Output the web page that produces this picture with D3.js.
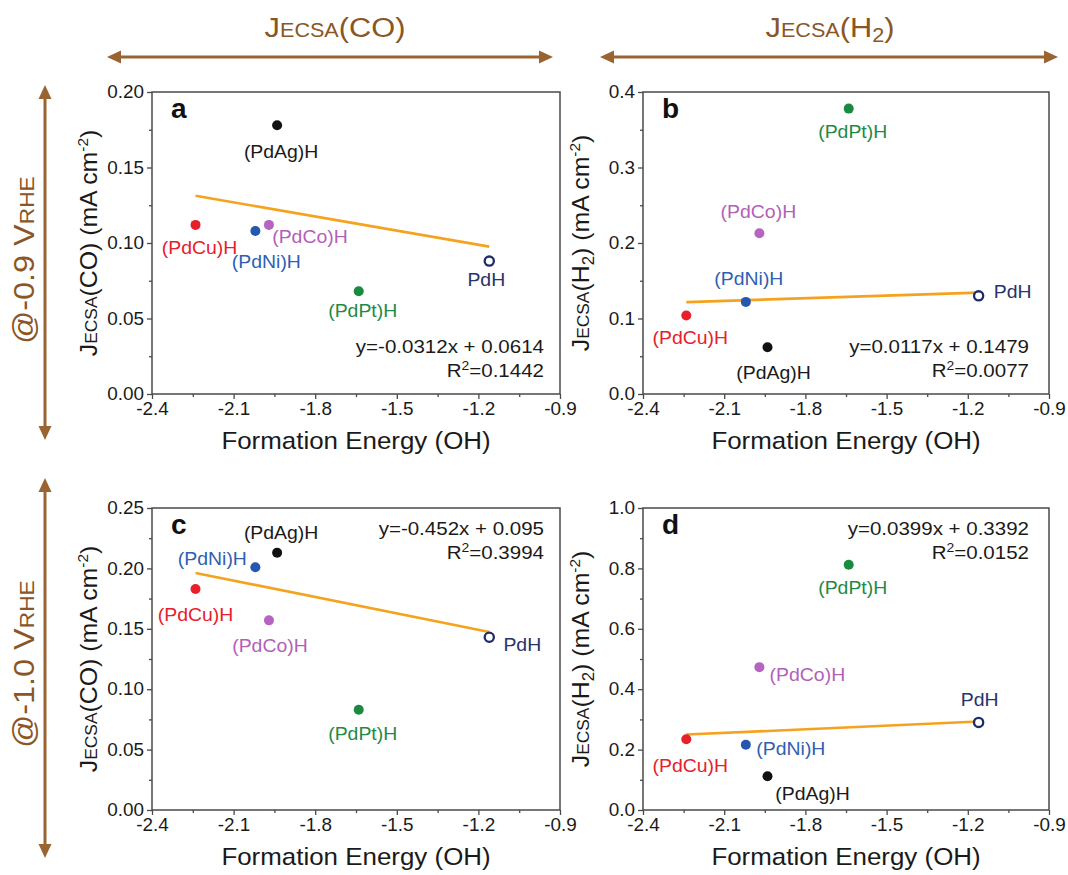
<!DOCTYPE html>
<html>
<head>
<meta charset="utf-8">
<script src="https://cdn.jsdelivr.net/npm/d3@7"></script>
<style>
  body { margin: 0; background: #fff; }
  svg { display: block; }
  text { font-family: "Liberation Sans", Arial, Helvetica, sans-serif; }
</style>
</head>
<body>
<svg id="fig" width="1068" height="875"></svg>
<script>
// ---- data ----
const catalysts = ["(PdCu)H", "(PdNi)H", "(PdCo)H", "(PdAg)H", "(PdPt)H", "PdH"];
const formationEnergyOH = [-2.24, -2.02, -1.97, -1.94, -1.64, -1.16];

// current densities normalised by ECSA (mA cm-2)
const jCO_09 = [0.112, 0.108, 0.112, 0.178, 0.068, 0.088];   // @-0.9 V
const jH2_09 = [0.104, 0.122, 0.213, 0.062, 0.378, 0.130];   // @-0.9 V
const jCO_10 = [0.183, 0.201, 0.157, 0.213, 0.083, 0.143];   // @-1.0 V
const jH2_10 = [0.234, 0.216, 0.473, 0.112, 0.812, 0.290];   // @-1.0 V

// linear fits for panels a–d
const fitSlope     = [-0.0312, 0.0117, -0.0452, 0.0399];
const fitIntercept = [0.0614, 0.1479, 0.095, 0.3392];
const fitEquation  = ["y=-0.0312x + 0.0614", "y=0.0117x + 0.1479", "y=-0.452x + 0.095", "y=0.0399x + 0.3392"];
const fitR2        = ["0.1442", "0.0077", "0.3994", "0.0152"];

// axis ticks
const xTicks = [-2.4, -2.1, -1.8, -1.5, -1.2, -0.9];
const yTicksCO09 = [0, 0.05, 0.10, 0.15, 0.20];
const yTicksH209 = [0, 0.1, 0.2, 0.3, 0.4];
const yTicksCO10 = [0, 0.05, 0.10, 0.15, 0.20, 0.25];
const yTicksH210 = [0, 0.2, 0.4, 0.6, 0.8, 1.0];

// ---- styling ----
const pointColor = ["#e8202a", "#2556b0", "#b565c0", "#111111", "#1a8a40", "#1e2c6a"];
const labelColor = ["#e8202a", "#2f5fb2", "#b35fba", "#1a1a1a", "#1f8a44", "#27336b"];
const brown = "#9a6432";
const brownText = "#8a5626";
const SX = 1.08;   // horizontal widening applied to all text

const svg = d3.select("#fig");

function richText(parent, x, y, parts, o) {
  const t = parent.append("text")
    .attr("transform", `translate(${x},${y})` + (o.rotate ? ` rotate(${o.rotate})` : "") + ` scale(${o.sx ?? SX},1)`)
    .attr("text-anchor", o.anchor || "start")
    .attr("fill", o.color || "#1a1a1a")
    .style("font-size", o.size + "px")
    .style("font-weight", o.weight || "normal");
  let shift = 0;
  parts.forEach(p => {
    const sz = p.s ? o.size * p.s : o.size;
    const target = p.up ? -o.size * p.up : 0;
    const ts = t.append("tspan").text(p.t).style("font-size", sz + "px");
    if (target !== shift) { ts.attr("dy", target - shift); shift = target; }
  });
  return t;
}

// ---- panel layout ----
const panels = [
  { letter: "a", values: jCO_09, yTicks: yTicksCO09, yMinor: 0.025, fmt: ".2f", species: "CO",
    box: { l: 152, r: 560, t: 92, b: 394 }, titleX: 97, eqTop: false, eqRight: 16,
    offs: [[4, 23], [11, 31], [41, 12], [4, 26], [4, 19], [-3, 18]] },
  { letter: "b", values: jH2_09, yTicks: yTicksH209, yMinor: 0.05, fmt: ".1f", species: "H2",
    box: { l: 643, r: 1049, t: 92, b: 394 }, titleX: 589, eqTop: false, eqRight: 20,
    offs: [[4, 22], [3, -23], [-1, -22], [6, 25], [4, 23], [34, -4]] },
  { letter: "c", values: jCO_10, yTicks: yTicksCO10, yMinor: 0.025, fmt: ".2f", species: "CO",
    box: { l: 152, r: 560, t: 508, b: 810 }, titleX: 97, eqTop: true, eqRight: 16,
    offs: [[0, 26], [-43, -9], [1, 25], [4, -20], [4, 24], [33, 7]] },
  { letter: "d", values: jH2_10, yTicks: yTicksH210, yMinor: 0.1, fmt: ".1f", species: "H2",
    box: { l: 643, r: 1049, t: 508, b: 810 }, titleX: 589, eqTop: true, eqRight: 20,
    offs: [[4, 26], [45, 4], [48, 7], [45, 17], [4, 23], [1, -23]] }
];

const axisColor = "#4a4a4a";
const hyphen = f => v => d3.format(f)(v).replace("\u2212", "-");

panels.forEach((p, i) => {
  const { l, r, t, b } = p.box;
  const g = svg.append("g");
  const x = d3.scaleLinear().domain([xTicks[0], xTicks[xTicks.length - 1]]).range([l, r]);
  const yMax = p.yTicks[p.yTicks.length - 1];
  const y = d3.scaleLinear().domain([0, yMax]).range([b, t]);

  // minor ticks
  const xMinor = d3.range(0, xTicks.length - 1).map(k => (xTicks[k] + xTicks[k + 1]) / 2);
  const yMinorVals = d3.range(p.yMinor, yMax, p.yMinor).filter(v => !p.yTicks.some(tv => Math.abs(tv - v) < 1e-9));

  const xAxis = g.append("g").attr("transform", `translate(0,${b})`)
    .call(d3.axisBottom(x).tickValues(xTicks).tickFormat(hyphen(".1f")).tickSize(5).tickPadding(4));
  g.append("g").attr("transform", `translate(0,${b})`)
    .call(d3.axisBottom(x).tickValues(xMinor).tickFormat("").tickSize(3))
    .call(s => s.select(".domain").remove());
  const yAxis = g.append("g").attr("transform", `translate(${l},0)`)
    .call(d3.axisLeft(y).tickValues(p.yTicks).tickFormat(hyphen(p.fmt)).tickSize(5).tickPadding(3));
  g.append("g").attr("transform", `translate(${l},0)`)
    .call(d3.axisLeft(y).tickValues(yMinorVals).tickFormat("").tickSize(3))
    .call(s => s.select(".domain").remove());

  g.selectAll(".domain").remove();
  g.selectAll(".tick line").attr("stroke", axisColor).attr("stroke-width", 1.3);
  g.selectAll(".tick text")
    .attr("fill", "#1a1a1a")
    .style("font-family", '"Liberation Sans", Arial, sans-serif')
    .style("font-size", "17.5px");
  xAxis.selectAll(".tick text").each(function () {
    d3.select(this).attr("transform", `scale(${SX},1)`).attr("x", 0);
  });
  yAxis.selectAll(".tick text").each(function () {
    d3.select(this).attr("transform", `translate(-8,0) scale(${SX},1)`).attr("x", 0);
  });

  // frame
  g.append("rect").attr("x", l).attr("y", t).attr("width", r - l).attr("height", b - t)
    .attr("fill", "none").attr("stroke", axisColor).attr("stroke-width", 1.5);

  // fit line
  const xr = d3.extent(formationEnergyOH);
  const line = d3.line().x(d => x(d[0])).y(d => y(d[1]));
  g.append("path")
    .datum(xr.map(v => [v, fitSlope[i] * v + fitIntercept[i]]))
    .attr("d", line).attr("fill", "none").attr("stroke", "#f5a21e").attr("stroke-width", 2.6);

  // points
  const pts = catalysts.map((c, k) => ({ name: c, fe: formationEnergyOH[k], j: p.values[k], k }));
  g.selectAll("circle.pt").data(pts).join("circle")
    .attr("class", "pt")
    .attr("cx", d => x(d.fe)).attr("cy", d => y(d.j))
    .attr("r", d => d.name === "PdH" ? 4.6 : 5)
    .attr("fill", d => d.name === "PdH" ? "#fff" : pointColor[d.k])
    .attr("stroke", d => d.name === "PdH" ? pointColor[d.k] : "none")
    .attr("stroke-width", 2.3);

  // point labels
  pts.forEach(d => {
    const [dx, dy] = p.offs[d.k];
    richText(g, x(d.fe) + dx, y(d.j) + dy + 6.5, [{ t: d.name }],
      { size: 18, anchor: "middle", color: labelColor[d.k] });
  });

  // panel letter
  richText(g, l + 19, t + 26, [{ t: p.letter }], { size: 28, weight: "bold", color: "#111", sx: 1 });

  // fit equation
  const eqX = r - p.eqRight;
  const y1 = p.eqTop ? t + 27 : b - 41;
  richText(g, eqX, y1, [{ t: fitEquation[i] }], { size: 19, anchor: "end" });
  richText(g, eqX, y1 + 24, [{ t: "R" }, { t: "2", s: 0.68, up: 0.38 }, { t: "=" + fitR2[i] }], { size: 19, anchor: "end" });

  // axis titles
  richText(g, (l + r) / 2, b + 55, [{ t: "Formation Energy (OH)" }], { size: 24, anchor: "middle" });
  const yParts = p.species === "CO"
    ? [{ t: "J" }, { t: "ECSA", s: 0.7 }, { t: "(CO) (mA cm" }, { t: "-2", s: 0.62, up: 0.4 }, { t: ")" }]
    : [{ t: "J" }, { t: "ECSA", s: 0.7 }, { t: "(H" }, { t: "2", s: 0.68, up: -0.2 }, { t: ") (mA cm" }, { t: "-2", s: 0.62, up: 0.4 }, { t: ")" }];
  richText(g, p.titleX, (t + b) / 2, yParts, { size: 23, anchor: "middle", rotate: -90 });
});

// ---- row / column headers with double-headed arrows ----
function hArrow(x1, x2, yy) {
  svg.append("line").attr("x1", x1 + 8).attr("x2", x2 - 8).attr("y1", yy).attr("y2", yy)
    .attr("stroke", brown).attr("stroke-width", 3);
  svg.append("path").attr("d", `M${x1},${yy} L${x1 + 14},${yy - 6.5} L${x1 + 14},${yy + 6.5} Z`).attr("fill", brown);
  svg.append("path").attr("d", `M${x2},${yy} L${x2 - 14},${yy - 6.5} L${x2 - 14},${yy + 6.5} Z`).attr("fill", brown);
}
function vArrow(xx, y1, y2) {
  svg.append("line").attr("x1", xx).attr("x2", xx).attr("y1", y1 + 8).attr("y2", y2 - 8)
    .attr("stroke", brown).attr("stroke-width", 3);
  svg.append("path").attr("d", `M${xx},${y1} L${xx - 6.5},${y1 + 14} L${xx + 6.5},${y1 + 14} Z`).attr("fill", brown);
  svg.append("path").attr("d", `M${xx},${y2} L${xx - 6.5},${y2 - 14} L${xx + 6.5},${y2 - 14} Z`).attr("fill", brown);
}

hArrow(107, 553, 57);
hArrow(600, 1058, 57);
vArrow(45, 85, 440);
vArrow(45, 478, 858);

richText(svg, 335, 37, [{ t: "J" }, { t: "ECSA", s: 0.7 }, { t: "(CO)" }], { size: 28, anchor: "middle", color: brownText, sx: 1.1 });
richText(svg, 830, 37, [{ t: "J" }, { t: "ECSA", s: 0.7 }, { t: "(H" }, { t: "2", s: 0.7, up: -0.18 }, { t: ")" }], { size: 28, anchor: "middle", color: brownText, sx: 1.1 });
richText(svg, 34, 260, [{ t: "@-0.9 V" }, { t: "RHE", s: 0.7 }], { size: 29, anchor: "middle", color: brownText, rotate: -90, sx: 1.12 });
richText(svg, 34, 664, [{ t: "@-1.0 V" }, { t: "RHE", s: 0.7 }], { size: 29, anchor: "middle", color: brownText, rotate: -90, sx: 1.12 });
</script>
</body>
</html>
